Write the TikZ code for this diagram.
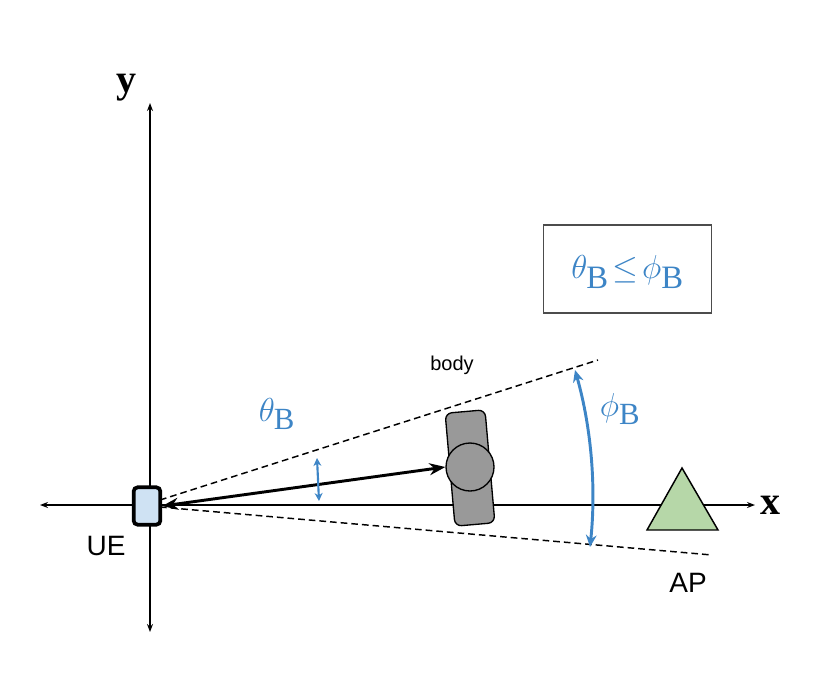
\documentclass[tikz,border=0pt]{standalone}
\usepackage{fontspec}
\usetikzlibrary{arrows.meta}
\setsansfont{Liberation Sans}
\setmainfont{Liberation Serif}
\definecolor{bl}{HTML}{3D85C6}
\begin{document}
\begin{tikzpicture}[x=0.75pt,y=-0.75pt,
  axis/.style={line width=1.2pt,{Stealth[length=6pt]}-{Stealth[length=6pt]}},
  dsh/.style={dashed,line width=1.1pt,dash pattern=on 5pt off 3pt},
  lbl/.style={font=\sffamily\fontsize{21}{24}\selectfont}]
\useasboundingbox (0,0) rectangle (830,696);
\coordinate (xl) at (40,505); \coordinate (xr) at (755,505);
\coordinate (yt) at (150,103); \coordinate (yb) at (150,632);
\draw[axis] (xl) -- (xr);
\draw[axis] (yb) -- (yt);
\node[font=\bfseries\fontsize{30}{30}\selectfont] (ylab) at (126,88) {y};
\node[font=\bfseries\fontsize{30}{30}\selectfont] (xlab) at (770,505) {x};
\coordinate (o1) at (160,500); \coordinate (u1) at (598,360);
\coordinate (o2) at (160,507); \coordinate (u2) at (712,555);
\draw[dsh] (o1) -- (u1);
\draw[dsh] (o2) -- (u2);
\node[draw,line width=2.8pt,fill={rgb,255:red,207;green,226;blue,243},rounded corners=3pt,minimum width=20pt,minimum height=28pt,inner sep=0pt] (ue) at (147,506) {};
\node[lbl] (uel) at (106,546) {UE};
\node[draw,line width=1pt,fill={rgb,255:red,153;green,153;blue,153},rounded corners=5pt,minimum width=30pt,minimum height=85pt,rotate=5,inner sep=0pt] (body) at (470,468) {};
\node[draw,line width=1pt,fill={rgb,255:red,153;green,153;blue,153},circle,minimum size=36pt,inner sep=0pt] (head) at (470,467) {};
\draw[line width=2.2pt,{Stealth[length=12pt,width=9pt]}-{Stealth[length=12pt,width=9pt]}] (ue.east) -- (head.west);
\node[font=\sffamily\fontsize{15}{18}\selectfont] (bodyl) at (452,365) {body};
\coordinate (s1) at (317,458); \coordinate (s2) at (319,501);
\draw[bl,line width=1.6pt,{Stealth[open,length=6pt,width=6pt]}-{Stealth[open,length=6pt,width=6pt]}] (s1) -- (s2);
\node[bl,font=\fontsize{33}{36}\selectfont] (tl) at (277,414) {$\theta_{\mathrm{B}}$};
\coordinate (a1) at (575,370); \coordinate (a2) at (590,547);
\draw[bl,line width=2.2pt,{Stealth[open,length=9pt,width=8pt]}-{Stealth[open,length=9pt,width=8pt]}] (a1) .. controls (592,430) and (596,490) .. (a2);
\node[bl,font=\fontsize{33}{36}\selectfont] (pl) at (620,409) {$\phi_{\mathrm{B}}$};
\node[draw=black!70,line width=1.3pt,minimum width=126pt,minimum height=66pt] (box) at (627.5,269) {};
\node[bl,font=\fontsize{35}{38}\selectfont] (boxt) at (627.5,272) {$\theta_{\mathrm{B}}\!\le\!\phi_{\mathrm{B}}$};
\coordinate (t1) at (682,468); \coordinate (t2) at (647,530); \coordinate (t3) at (718,530);
\draw[line width=1.1pt,fill={rgb,255:red,182;green,215;blue,168}] (t1) -- (t2) -- (t3) -- cycle;
\node[lbl] (apl) at (688,583) {AP};
\end{tikzpicture}
\end{document}
